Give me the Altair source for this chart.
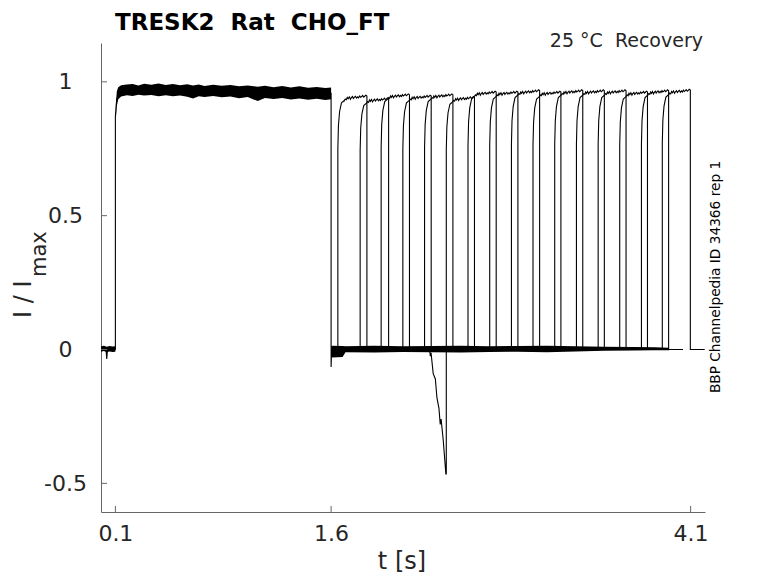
import altair as alt
import pandas as pd

# ---------------- values ----------------
X_DOMAIN = [0.0, 4.2]
Y_DOMAIN = [-0.607, 1.145]
x_ticks = [0.1, 1.6, 4.1]
y_ticks = [-0.5, 0, 0.5, 1]

# conditioning pulse (shared by all sweeps)
p1_t = [0.0, 0.035, 0.04, 0.045, 0.1, 0.1, 0.105, 0.11, 0.12, 0.15, 0.4, 0.8, 1.2, 1.6, 1.6, 1.603, 1.61]
p1_v = [0.0, 0.0, -0.035, 0.0, 0.0, 0.87, 0.91, 0.935, 0.95, 0.965, 0.968, 0.964, 0.96, 0.957, -0.065, -0.01, 0.0]

# envelope of the overlapping sweeps during the conditioning pulse
band1_t = [0.105, 0.11, 0.12, 0.14, 0.18, 0.22, 0.26, 0.30, 0.35, 0.40,
           0.45, 0.50, 0.55, 0.60, 0.64, 0.68, 0.72, 0.78, 0.84, 0.90,
           0.96, 1.02, 1.09, 1.14, 1.20, 1.26, 1.32, 1.38, 1.44, 1.50,
           1.56, 1.60]
band1_hi = [0.93, 0.965, 0.98, 0.987, 0.99, 0.992, 0.986, 0.993, 0.989, 0.994,
            0.988, 0.992, 0.987, 0.991, 0.986, 0.99, 0.984, 0.989, 0.985, 0.988,
            0.983, 0.986, 0.982, 0.985, 0.98, 0.984, 0.979, 0.983, 0.978, 0.981,
            0.977, 0.979]
band1_lo = [0.87, 0.91, 0.935, 0.945, 0.95, 0.947, 0.952, 0.949, 0.951, 0.946,
            0.95, 0.946, 0.949, 0.944, 0.938, 0.946, 0.943, 0.947, 0.942, 0.945,
            0.939, 0.943, 0.928, 0.94, 0.936, 0.94, 0.934, 0.938, 0.933, 0.937,
            0.932, 0.935]

# baseline noise band before the pulse and after it
band0_t = [0.0, 0.02, 0.04, 0.06, 0.08, 0.1]
band0_hi = [0.012, 0.014, 0.01, 0.013, 0.011, 0.012]
band0_lo = [-0.008, -0.006, -0.01, -0.007, -0.009, -0.008]
band2_t = [1.6, 1.605, 1.68, 1.70, 1.9, 2.1, 2.3, 2.5, 2.7, 2.9, 3.1, 3.3, 3.5, 3.7, 3.85, 3.95]
band2_hi = [0.012, 0.014, 0.013, 0.012, 0.014, 0.012, 0.013, 0.014, 0.012, 0.013, 0.014, 0.012, 0.01, 0.009, 0.008, 0.007]
band2_lo = [-0.01, -0.03, -0.028, -0.01, -0.011, -0.009, -0.01, -0.011, -0.009, -0.008, -0.01, -0.007, -0.005, -0.004, -0.003, -0.003]

# test pulses: onset, offset, plateau level of each sweep
test_on = [1.647, 1.802, 1.948, 2.099, 2.250, 2.401, 2.552, 2.703,
           2.854, 3.004, 3.155, 3.306, 3.457, 3.607, 3.758, 3.903]
test_off = [1.849, 2.000, 2.145, 2.296, 2.447, 2.597, 2.748, 2.899,
            3.050, 3.198, 3.350, 3.500, 3.651, 3.800, 3.947, 4.098]
test_level = [0.94, 0.93, 0.945, 0.94, 0.945, 0.935, 0.955, 0.955,
              0.96, 0.955, 0.96, 0.96, 0.96, 0.955, 0.96, 0.962]
tail = 0.1  # sweep continues at 0 after the test pulse ends

# shape of the activation at the start of a test pulse (fraction of plateau)
rise_dt = [0.0, 0.0, 0.004, 0.012, 0.025, 0.045]
rise_frac = [0.0, 0.8, 0.89, 0.945, 0.98, 0.99]
# ripple along a plateau (fraction of pulse, offset from level)
ripple_frac = [0.0, 0.04, 0.09, 0.13, 0.17, 0.22, 0.27, 0.31, 0.36, 0.40, 0.45, 0.49,
               0.54, 0.59, 0.63, 0.68, 0.72, 0.77, 0.81, 0.86, 0.90, 0.95, 1.0]
ripple_dy = [-0.010, -0.004, -0.007, 0.002, -0.003, 0.004, -0.005, 0.001, 0.005, -0.002,
             0.003, 0.006, -0.001, 0.004, 0.0, 0.007, 0.002, 0.005, 0.009, 0.003, 0.006,
             0.01, 0.007]

# sweep with the inward current before its test pulse
odd_sweep = 5
odd_t = [2.285, 2.29, 2.295, 2.31, 2.325, 2.336, 2.35, 2.359, 2.365, 2.38, 2.398]
odd_v = [0.0, -0.025, -0.012, -0.09, -0.11, -0.18, -0.22, -0.28, -0.26, -0.34, -0.465]

# ---------------- tables ----------------
rows = []
for i, (t, v) in enumerate(zip(p1_t, p1_v)):
    rows.append({"sweep": "c", "i": i, "t": t, "v": v})
for k in range(len(test_on)):
    on, off, lev = test_on[k], test_off[k], test_level[k]
    pts = [(1.61, 0.0)]
    if k == odd_sweep:
        pts += list(zip(odd_t, odd_v))
        pts.append((on, odd_v[-1]))
    else:
        pts.append((on, 0.0))
    for dt, f in zip(rise_dt[1:], rise_frac[1:]):
        pts.append((on + dt, lev * f))
    start = on + rise_dt[-1]
    for fr, dy in zip(ripple_frac, ripple_dy):
        pts.append((start + fr * (off - start), lev + dy))
    pts += [(off, 0.0), (off + tail, 0.0)]
    for i, (t, v) in enumerate(pts):
        rows.append({"sweep": f"s{k}", "i": i, "t": t, "v": v})
lines = pd.DataFrame(rows)

bands = pd.concat([
    pd.DataFrame({"b": "pre", "t": band0_t, "hi": band0_hi, "lo": band0_lo}),
    pd.DataFrame({"b": "p1", "t": band1_t, "hi": band1_hi, "lo": band1_lo}),
    pd.DataFrame({"b": "post", "t": band2_t, "hi": band2_hi, "lo": band2_lo}),
])

xs = alt.Scale(domain=X_DOMAIN, nice=False, zero=False)
ys = alt.Scale(domain=Y_DOMAIN, nice=False, zero=False)
FONT = "DejaVu Sans"
AX = "#666666"
TXT = "#262626"

x_axis = alt.Axis(values=x_ticks, labelExpr="toString(datum.value)", title=None, grid=False,
                  ticks=False, tickSize=0, labelPadding=11, labelFontSize=22, labelFont=FONT,
                  labelColor=TXT, domainColor=AX, labelFlush=False)
y_axis = alt.Axis(values=y_ticks, labelExpr="toString(datum.value)", title=None, grid=False,
                  ticks=False, tickSize=0, labelPadding=36, labelAlign="center", labelFontSize=22,
                  labelFont=FONT, labelColor=TXT, domainColor=AX, labelFlush=False)

band_layer = alt.Chart(bands).mark_area(color="black", opacity=1, clip=True).encode(
    x=alt.X("t:Q", scale=xs, axis=x_axis),
    y=alt.Y("hi:Q", scale=ys, axis=y_axis),
    y2="lo:Q",
    detail="b:N",
)

line_layer = alt.Chart(lines).mark_line(color="black", strokeWidth=1.1, clip=True).encode(
    x=alt.X("t:Q", scale=xs),
    y=alt.Y("v:Q", scale=ys),
    detail="sweep:N",
    order="i:Q",
)

xt = alt.Chart(pd.DataFrame({"t": x_ticks})).mark_rule(color=AX, strokeWidth=1).encode(
    x=alt.X("t:Q", scale=xs), y=alt.value(469), y2=alt.value(463))
yt = alt.Chart(pd.DataFrame({"v": y_ticks})).mark_rule(color=AX, strokeWidth=1).encode(
    y=alt.Y("v:Q", scale=ys), x=alt.value(0), x2=alt.value(6))


def label(text, x, y, size, angle=0, align="left", baseline="alphabetic", weight="normal", color=TXT):
    return alt.Chart(pd.DataFrame({"s": [text]})).mark_text(
        font=FONT, fontSize=size, angle=angle, align=align, baseline=baseline,
        fontWeight=weight, color=color).encode(text="s:N", x=alt.value(x), y=alt.value(y))


texts = [
    label("TRESK2\u00a0\u00a0Rat\u00a0\u00a0CHO_FT", 14, -13.5, 23, weight="bold", color="black"),
    label("25 \u00b0C\u00a0\u00a0Recovery", 602, 4, 19, align="right"),
    label("BBP Channelpedia ID 34366 rep 1", 615, 234, 13.7, angle=270, align="center", baseline="middle", color="black"),
    label("t [s]", 301, 526, 24, align="center"),
    label("I / I", -70, 275, 24, angle=270),
    label("max", -55, 234, 21, angle=270),
]

chart = alt.layer(band_layer, line_layer, xt, yt, *texts).properties(
    width=604, height=469,
    padding={"left": 93, "top": 35, "right": 65, "bottom": 63},
    autosize=alt.AutoSizeParams(type="none"),
).configure_view(stroke=None)

chart.save("out.html", embed_options={"renderer": "svg", "actions": False})
